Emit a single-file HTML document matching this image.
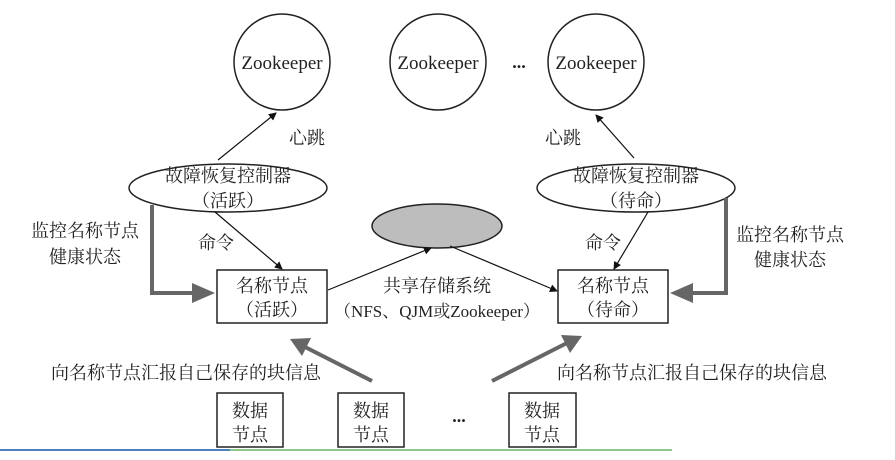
<!DOCTYPE html>
<html><head><meta charset="utf-8"><style>
html,body{margin:0;padding:0;background:#fff;}
svg text{font-family:"Liberation Serif","Noto Serif CJK SC","Noto Sans CJK SC",serif;fill:#222;}
</style></head><body>
<svg width="895" height="455" viewBox="0 0 895 455" xmlns="http://www.w3.org/2000/svg">
<defs>
<marker id="a" markerWidth="8" markerHeight="8" refX="7" refY="4" orient="auto" markerUnits="userSpaceOnUse"><path d="M0,0 L8,4 L0,8 Z" fill="#111"/></marker>
</defs>
<g fill="none" stroke="#222" stroke-width="1.5">
<circle cx="282" cy="62" r="48"/>
<circle cx="438" cy="62" r="48"/>
<circle cx="596" cy="62" r="48"/>
<ellipse cx="228" cy="188" rx="99" ry="24"/>
<ellipse cx="636" cy="188" rx="99" ry="24"/>
<rect x="217" y="270" width="110" height="53"/>
<rect x="558" y="270" width="110" height="53"/>
<rect x="217" y="393" width="66" height="54"/>
<rect x="338" y="393" width="66" height="54"/>
<rect x="509" y="393" width="67" height="54"/>
</g>
<ellipse cx="437" cy="226" rx="65" ry="22" fill="#bdbdbd" stroke="#222" stroke-width="1.5"/>
<g stroke="#111" stroke-width="1.2" fill="none" marker-end="url(#a)">
<line x1="218" y1="160" x2="276" y2="113"/>
<line x1="634" y1="158" x2="596" y2="115"/>
<line x1="215" y1="212" x2="282" y2="269"/>
<line x1="648" y1="212" x2="614" y2="269"/>
<line x1="328" y1="290" x2="431" y2="248"/>
<line x1="450" y1="246" x2="557" y2="291"/>
</g>
<g stroke="#666" stroke-width="4" fill="none">
<polyline points="152,205 152,293 196,293"/>
<polyline points="726,198 726,293 690,293"/>
<line x1="372" y1="381" x2="305" y2="347"/>
<line x1="492" y1="381" x2="567" y2="343"/>
</g>
<g fill="#666">
<polygon points="215,293 192,283 192,303"/>
<polygon points="670,293 693,283 693,303"/>
<polygon points="290,339 311,338 302,356"/>
<polygon points="582,336 570,353 561,335"/>
</g>
<g font-size="18" text-anchor="middle">
<text x="282" y="69" font-size="19">Zookeeper</text>
<text x="438" y="69" font-size="19">Zookeeper</text>
<text x="596" y="69" font-size="19">Zookeeper</text>
<text x="519" y="68" font-weight="bold">...</text>
<text x="307" y="144">心跳</text>
<text x="563" y="144">心跳</text>
<text x="228" y="182">故障恢复控制器</text>
<text x="228" y="207">（活跃）</text>
<text x="636" y="182">故障恢复控制器</text>
<text x="636" y="207">（待命）</text>
<text x="85" y="237">监控名称节点</text>
<text x="85" y="263">健康状态</text>
<text x="790" y="241">监控名称节点</text>
<text x="790" y="266">健康状态</text>
<text x="216" y="249">命令</text>
<text x="603" y="249">命令</text>
<text x="272" y="292">名称节点</text>
<text x="272" y="316">（活跃）</text>
<text x="613" y="292">名称节点</text>
<text x="613" y="316">（待命）</text>
<text x="437" y="292">共享存储系统</text>
<text x="437" y="317" font-size="17">（NFS、QJM或Zookeeper）</text>
<text x="186" y="379">向名称节点汇报自己保存的块信息</text>
<text x="692" y="379">向名称节点汇报自己保存的块信息</text>
<text x="250" y="417">数据</text>
<text x="250" y="441">节点</text>
<text x="371" y="417">数据</text>
<text x="371" y="441">节点</text>
<text x="542" y="417">数据</text>
<text x="542" y="441">节点</text>
<text x="459" y="422" font-weight="bold">...</text>
</g>
<line x1="0" y1="450" x2="230" y2="450" stroke="#4a7fc0" stroke-width="2"/>
<line x1="230" y1="450" x2="672" y2="450" stroke="#8fc78a" stroke-width="2"/>
</svg>
</body></html>
